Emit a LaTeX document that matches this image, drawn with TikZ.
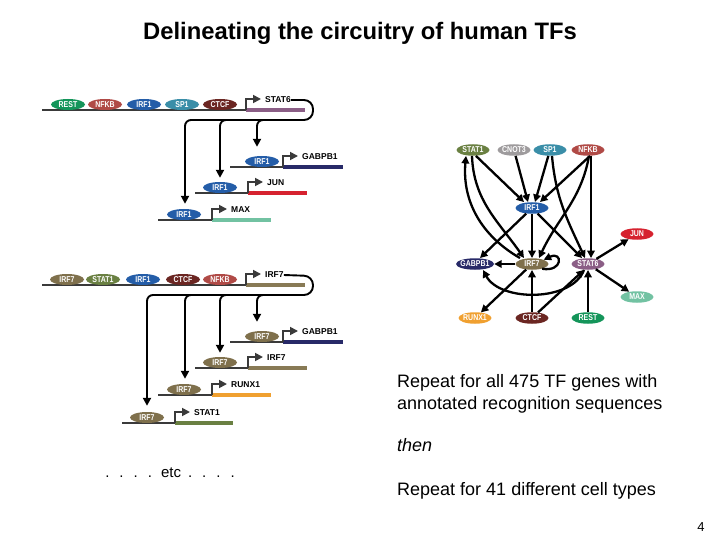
\documentclass[tikz,border=0pt]{standalone}
\usepackage{fontspec}
\setmainfont{Liberation Sans}
\newfontfamily\tffont[FakeStretch=0.82]{Liberation Sans}
\usetikzlibrary{arrows.meta,shapes.geometric}
\definecolor{dnac}{HTML}{3A3A3A}
\definecolor{cREST}{HTML}{14955A}
\definecolor{cNFKB}{HTML}{B04A46}
\definecolor{cIRF1}{HTML}{245DA8}
\definecolor{cSP1}{HTML}{3A8EA8}
\definecolor{cCTCF}{HTML}{6B2622}
\definecolor{cSTAT6}{HTML}{8B5E86}
\definecolor{cGABPB1}{HTML}{282A68}
\definecolor{cJUN}{HTML}{D6222F}
\definecolor{cMAX}{HTML}{72C2A2}
\definecolor{cIRF7}{HTML}{7F704C}
\definecolor{cIRF7bar}{HTML}{887A55}
\definecolor{cSTAT1}{HTML}{6A8042}
\definecolor{cCNOT3}{HTML}{9E9B9D}
\definecolor{cRUNX1}{HTML}{F0A030}
\tikzset{
 tf/.style={ellipse, fill=#1, minimum width=34pt, minimum height=11pt, inner xsep=-3pt, inner ysep=0pt, text=white, font=\tffont\bfseries\fontsize{8.5}{8.5}\selectfont},
 ntf/.style={ellipse, fill=#1, minimum width=33pt, minimum height=11.5pt, inner xsep=-2.5pt, inner ysep=0pt, text=white, font=\tffont\bfseries\fontsize{8.5}{8.5}\selectfont},
 glabel/.style={anchor=west, inner sep=0pt, font=\bfseries\fontsize{8.5}{8.5}\selectfont},
 dna/.style={line width=1.7pt, draw=dnac},
 genebar/.style={line width=4.5pt, draw=#1},
 prom/.style={line width=1.7pt, draw=dnac, -{Triangle[length=8pt,width=8pt]}},
 reg/.style={line width=1.9pt, draw=black},
 regarr/.style={reg, -{Triangle[length=8pt,width=8pt]}},
 narr/.style={line width=2.3pt, draw=black, -{Triangle[length=7.5pt,width=7.5pt]}},
 bigtext/.style={anchor=base west, inner sep=0pt, font=\fontsize{18}{18}\selectfont},
}
\newcommand{\tfgene}[7]{%
 \draw[genebar=#6] (#3,#5) -- (#4,#5);
 \draw[dna] (#2,#5) -- (#3,#5);
 \draw[prom] (#3,#5) -- (#3,#5-11) -- (#3+15,#5-11);
 \node[glabel] (#1) at (#3+19,#5-10) {#7};
}
\begin{document}
\begin{tikzpicture}[x=1pt,y=-1pt]
\useasboundingbox (0,0) rectangle (720,540);
\node[anchor=base, inner sep=0pt, font=\bfseries\fontsize{23.8}{23.8}\selectfont] (title) at (360,40) {Delineating the circuitry of human TFs};

% ---------- panel 1 ----------
\tfgene{gSTAT6}{42}{246}{305}{110}{cSTAT6}{STAT6}
\node[tf=cREST] (a1) at (68,104.5) {REST};
\node[tf=cNFKB] (a2) at (105,104.5) {NFKB};
\node[tf=cIRF1] (a3) at (144,104.5) {IRF1};
\node[tf=cSP1] (a4) at (182,104.5) {SP1};
\node[tf=cCTCF] (a5) at (220,104.5) {CTCF};

\tfgene{gGABPB1a}{230}{283}{343}{167}{cGABPB1}{GABPB1}
\node[tf=cIRF1] (b1) at (262,161.5) {IRF1};
\tfgene{gJUN}{195}{248}{307}{193}{cJUN}{JUN}
\node[tf=cIRF1] (b2) at (220,187.5) {IRF1};
\tfgene{gMAX}{158}{212}{271}{220}{cMAX}{MAX}
\node[tf=cIRF1] (b3) at (184,214.5) {IRF1};

\draw[reg, rounded corners=9] (gSTAT6.east) -- (313,100) -- (313,120) -- (200,120);
\draw[regarr, rounded corners=6, shorten >=9pt] (270,120) -| ([xshift=-5pt]b1.north);
\draw[regarr, rounded corners=6, shorten >=4pt] (235,120) -| (b2.north);
\draw[regarr, rounded corners=6, shorten >=5pt] (205,120) -| ([xshift=1pt]b3.north);

% ---------- panel 2 ----------
\tfgene{gIRF7}{42}{246}{305}{285}{cIRF7bar}{IRF7}
\node[tf=cIRF7] (c1) at (67,279.5) {IRF7};
\node[tf=cSTAT1] (c2) at (103,279.5) {STAT1};
\node[tf=cIRF1] (c3) at (143,279.5) {IRF1};
\node[tf=cCTCF] (c4) at (183,279.5) {CTCF};
\node[tf=cNFKB] (c5) at (220,279.5) {NFKB};

\tfgene{gGABPB1b}{230}{283}{343}{342}{cGABPB1}{GABPB1}
\node[tf=cIRF7] (d1) at (262,336.5) {IRF7};
\tfgene{gIRF7b}{195}{248}{307}{368}{cIRF7bar}{IRF7}
\node[tf=cIRF7] (d2) at (220,362.5) {IRF7};
\tfgene{gRUNX1}{158}{212}{271}{395}{cRUNX1}{RUNX1}
\node[tf=cIRF7] (d3) at (184,389.5) {IRF7};
\tfgene{gSTAT1}{122}{175}{233}{423}{cSTAT1}{STAT1}
\node[tf=cIRF7] (d4) at (147,417.5) {IRF7};

\draw[reg, rounded corners=9] (gIRF7.east) -- (313,276) -- (313,295) -- (165,295);
\draw[regarr, rounded corners=6, shorten >=9pt] (270,295) -| ([xshift=-5pt]d1.north);
\draw[regarr, rounded corners=6, shorten >=4pt] (235,295) -| (d2.north);
\draw[regarr, rounded corners=6, shorten >=5pt] (200,295) -| ([xshift=1pt]d3.north);
\draw[regarr, rounded corners=6, shorten >=6pt] (165,295) -| (d4.north);

\node[anchor=base, inner sep=0pt, font=\fontsize{15}{15}\selectfont] (etc) at (170,477) {.\hspace{10pt}.\hspace{10pt}.\hspace{10pt}.\hspace{9pt}etc\hspace{7pt}.\hspace{10pt}.\hspace{10pt}.\hspace{10pt}.};

% ---------- network ----------
\node[ntf=cSTAT1] (nSTAT1) at (473,150) {STAT1};
\node[ntf=cCNOT3] (nCNOT3) at (514,150) {CNOT3};
\node[ntf=cSP1] (nSP1) at (550,150) {SP1};
\node[ntf=cNFKB] (nNFKB) at (588,150) {NFKB};
\node[ntf=cIRF1] (nIRF1) at (532,208) {IRF1};
\node[ntf=cJUN] (nJUN) at (637,234) {JUN};
\node[ntf=cGABPB1, minimum width=38pt] (nGABPB1) at (475,264) {GABPB1};
\node[ntf=cIRF7] (nIRF7) at (532,264) {IRF7};
\node[ntf=cSTAT6] (nSTAT6) at (588,264) {STAT6};
\node[ntf=cMAX] (nMAX) at (637,297) {MAX};
\node[ntf=cRUNX1] (nRUNX1) at (475,318) {RUNX1};
\node[ntf=cCTCF] (nCTCF) at (532,318) {CTCF};
\node[ntf=cREST] (nREST) at (588,318) {REST};

\draw[narr] ([xshift=3pt]nSTAT1.south) -- ([xshift=-8pt]nIRF1.north);
\draw[narr] (nCNOT3) -- ([xshift=-4pt]nIRF1.north);
\draw[narr] (nSP1) -- ([xshift=3pt]nIRF1.north);
\draw[narr] ([xshift=2pt]nNFKB.south) -- ([xshift=8pt]nIRF1.north);
\draw[narr] ([xshift=3pt]nNFKB.south) -- ([xshift=3pt]nSTAT6.north);
\draw[narr] ([xshift=-1pt]nSTAT1.south) to[out=-88,in=125] ([xshift=-8pt]nIRF7.north);
\draw[narr] ([xshift=-12pt]nIRF7.north) to[out=150,in=-95] ([xshift=-7pt]nSTAT1.south);
\draw[narr] ([xshift=2pt]nSP1.south) to[out=-85,in=115] ([xshift=-3pt]nSTAT6.north);
\draw[narr] ([xshift=1pt]nNFKB.south) to[out=-100,in=65] ([xshift=7pt]nIRF7.north);
\draw[narr] (nIRF1) -- ([xshift=5pt]nGABPB1.north);
\draw[narr] (nIRF1) -- (nIRF7);
\draw[narr] (nIRF1) -- ([xshift=-6pt]nSTAT6.north);
\draw[narr] (nIRF7) -- (nGABPB1);
\draw[narr] (nIRF7.-25) to[out=-10,in=25,looseness=6] (nIRF7.20);
\draw[narr] ([xshift=-4pt]nSTAT6.south) .. controls (572,302) and (500,302) .. ([xshift=8pt]nGABPB1.south);
\draw[narr] (nIRF7) -- (nRUNX1);
\draw[narr] (nCTCF) -- (nIRF7);
\draw[narr] (nCTCF) -- ([xshift=-4pt]nSTAT6.south);
\draw[narr] (nREST) -- (nSTAT6);
\draw[narr] (nSTAT6) -- (nJUN);
\draw[narr] (nSTAT6) -- (nMAX);

% ---------- text ----------
\node[bigtext] (t1) at (397,387) {Repeat for all 475 TF genes with};
\node[bigtext] (t2) at (397,409) {annotated recognition sequences};
\node[bigtext, font=\itshape\fontsize{18}{18}\selectfont] (t3) at (397,451) {then};
\node[bigtext] (t4) at (397,495) {Repeat for 41 different cell types};
\node[anchor=base, inner sep=0pt, font=\fontsize{13}{13}\selectfont] (pg) at (701,531) {4};
\end{tikzpicture}
\end{document}
